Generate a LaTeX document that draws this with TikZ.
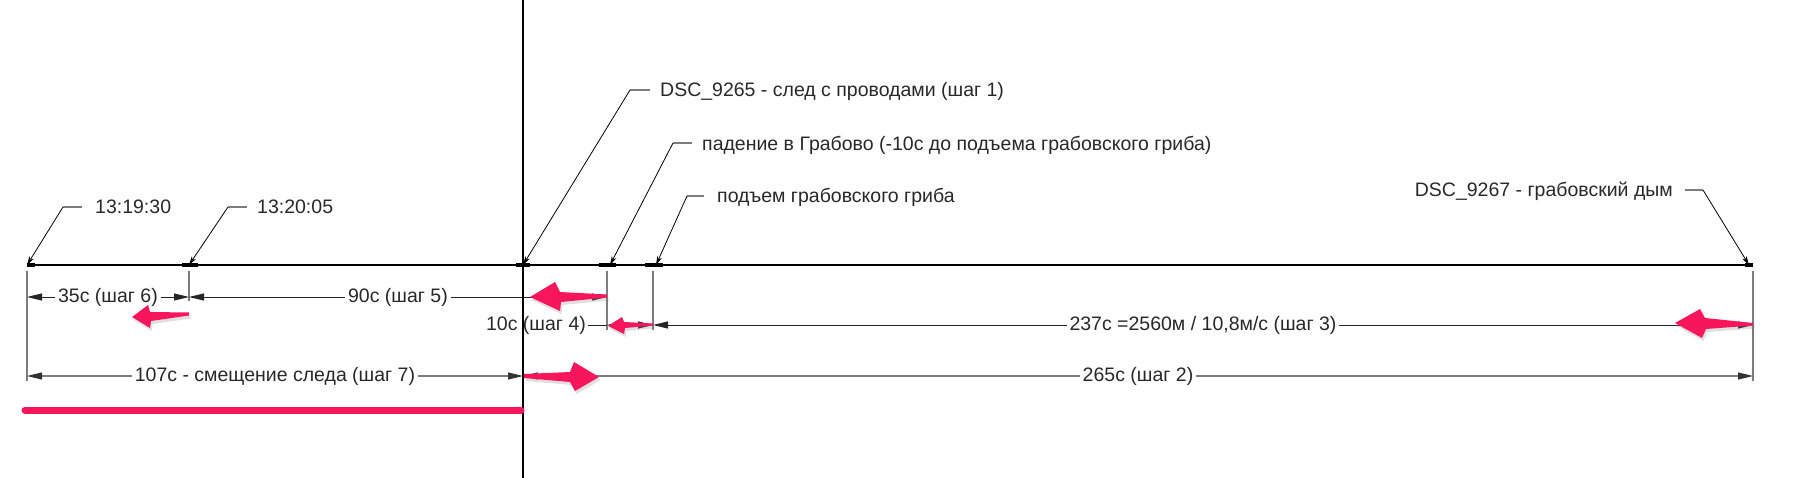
\documentclass[tikz,border=0pt]{standalone}
\usepackage{fontspec}
\setmainfont{Liberation Sans}
\usetikzlibrary{arrows.meta, calc, shadows}
\definecolor{hlpink}{RGB}{247,22,92}
\definecolor{dimgrey}{RGB}{125,125,125}
\definecolor{txtgrey}{RGB}{40,40,40}
\tikzstyle{timeline} = [line width=2pt, black]
\tikzstyle{axisline} = [line width=2.5pt, black]
\tikzstyle{tickmark} = [line width=4pt, black]
\tikzstyle{extline} = [line width=1.2pt, dimgrey]
\tikzstyle{dimline} = [
    line width=0.9pt, black!85,
    {Triangle[length=15pt,width=7pt]}-{Triangle[length=15pt,width=7pt]}
]
\tikzstyle{dimlinegrey} = [
    line width=1.1pt, dimgrey,
    {Triangle[length=15pt,width=7pt,color=black!80]}-{Triangle[length=15pt,width=7pt,color=black!80]}
]
\tikzstyle{dimlabel} = [fill=white, inner sep=3pt, text=txtgrey]
\tikzstyle{callout} = [anchor=base west, inner sep=0pt, text=txtgrey]
\tikzstyle{leadline} = [line width=1.2pt, dimgrey]
\tikzstyle{leadarrow} = [line width=0.8pt, black, -{Stealth[length=9pt,width=5pt]}]
\tikzstyle{hlarrow} = [fill=hlpink, draw=none,
    drop shadow={opacity=0.25, shadow xshift=1.5pt, shadow yshift=-3pt}]
\tikzstyle{hlline} = [line width=7pt, hlpink, line cap=round]

\begin{document}
\begin{tikzpicture}[
    x=1pt, y=-1pt,
    font=\fontsize{19.5}{23}\selectfont
]
\useasboundingbox (0,0) rectangle (1799,478);

% Точки на шкале
\coordinate (p1) at (27,265);
\coordinate (p2) at (189,265);
\coordinate (p3) at (523,265);
\coordinate (p4) at (607,265);
\coordinate (p5) at (653,265);
\coordinate (p6) at (1753,265);
\coordinate (r1) at (0,297);
\coordinate (r2) at (0,325);
\coordinate (r3) at (0,376);
\coordinate (ax1) at (523,0);
\coordinate (ax2) at (523,478);

% Выносные линии
\draw [extline] ($(p1)+(0,6)$) -- ($(p1 |- r3)+(0,5)$);
\draw [extline] ($(p2)+(0,6)$) -- ($(p2 |- r1)+(0,4)$);
\draw [extline] ($(p4)+(0,6)$) -- ($(p4 |- r2)+(0,5)$);
\draw [extline] ($(p5)+(0,6)$) -- ($(p5 |- r2)+(0,5)$);
\draw [extline] ($(p6)+(0,6)$) -- ($(p6 |- r3)+(0,5)$);

% Шкала и отметки
\draw [timeline] (p1) -- (p6);
\draw [tickmark] (p1) -- ($(p1)+(8,0)$);
\draw [tickmark] ($(p2)+(-7,0)$) -- ($(p2)+(9,0)$);
\draw [tickmark] ($(p3)+(-7,0)$) -- ($(p3)+(7,0)$);
\draw [tickmark] ($(p4)+(-8,0)$) -- ($(p4)+(9,0)$);
\draw [tickmark] ($(p5)+(-8,0)$) -- ($(p5)+(10,0)$);
\draw [tickmark] ($(p6)+(-8,0)$) -- (p6);

% Размеры
\draw [dimline] (p1 |- r1) -- node[dimlabel] {35с (шаг 6)} (p2 |- r1);
\draw [dimline] (p2 |- r1) -- node[dimlabel] {90с (шаг 5)} (p4 |- r1);
\draw [dimline] (p4 |- r2) -- (p5 |- r2);
\node (d4) [inner sep=0pt, text=txtgrey] at (536,325) {10с (шаг 4)};
\draw [line width=0.9pt, black!85] ($(d4.east)+(2,0)$) -- (p4 |- r2);
\draw [dimline] (p5 |- r2) -- node[dimlabel] {237с =2560м / 10,8м/с (шаг 3)} (p6 |- r2);
\draw [dimlinegrey] (p1 |- r3) -- node[dimlabel] {107с - смещение следа (шаг 7)} (p3 |- r3);
\draw [dimlinegrey] (p3 |- r3) -- node[dimlabel] {265с (шаг 2)} (p6 |- r3);

% Вертикаль
\draw [axisline] (ax1) -- (ax2);

% Выноски
\node (c1) [callout] at (95,214) {13:19:30};
\node (c2) [callout] at (257,214) {13:20:05};
\node (c3) [callout] at (660,97) {DSC\_9265 - след с проводами (шаг 1)};
\node (c4) [callout] at (702,151) {падение в Грабово (-10с до подъема грабовского гриба)};
\node (c5) [callout] at (717,203) {подъем грабовского гриба};
\node (c6) [callout, anchor=base east] at (1673,197) {DSC\_9267 - грабовский дым};
\coordinate (e1) at (63,207);
\coordinate (e2) at (228,207);
\coordinate (e3) at (630,90);
\coordinate (e4) at (673,143);
\coordinate (e5) at (687,196);
\coordinate (e6) at (1703,190);
\draw [leadline] (e1) -- ($(c1.base west)+(-13,-7)$);
\draw [leadline] (e2) -- ($(c2.base west)+(-10,-7)$);
\draw [leadline] (e3) -- ($(c3.base west)+(-10,-7)$);
\draw [leadline] (e4) -- ($(c4.base west)+(-10,-8)$);
\draw [leadline] (e5) -- ($(c5.base west)+(-13,-7)$);
\draw [leadline] (e6) -- ($(c6.base east)+(12,-7)$);
\draw [leadarrow] (e1) -- (p1);
\draw [leadarrow] (e2) -- (p2);
\draw [leadarrow] (e3) -- (p3);
\draw [leadarrow] (e4) -- ($(p4)+(3,0)$);
\draw [leadarrow] (e5) -- ($(p5)+(3,0)$);
\draw [leadarrow] (e6) -- ($(p6)+(-4,0)$);

% Красные стрелки
\fill [hlarrow] (132,317) -- (148,305) -- (150,312) -- (189,312.5)
    -- (189,315.5) -- (151,321) -- (150,328) -- cycle;
\fill [hlarrow] (530,297) -- (555,282) -- (560,292) -- (607,294.5)
    -- (607,297.5) -- (561,302) -- (560,311) -- cycle;
\fill [hlarrow] (608,326) -- (622,317) -- (624,322) -- (653,323.5)
    -- (653,325.5) -- (625,328) -- (624,334) -- cycle;
\fill [hlarrow] (1675,323) -- (1700,309) -- (1705,318) -- (1753,323)
    -- (1753,325.5) -- (1706,329) -- (1702,338) -- cycle;
\fill [hlarrow] (599,377) -- (574,362) -- (570,372) -- (524,374)
    -- (524,378) -- (570,382) -- (575,391) -- cycle;
\draw [hlline] (25,410) -- (521,410);

\end{tikzpicture}
\end{document}
